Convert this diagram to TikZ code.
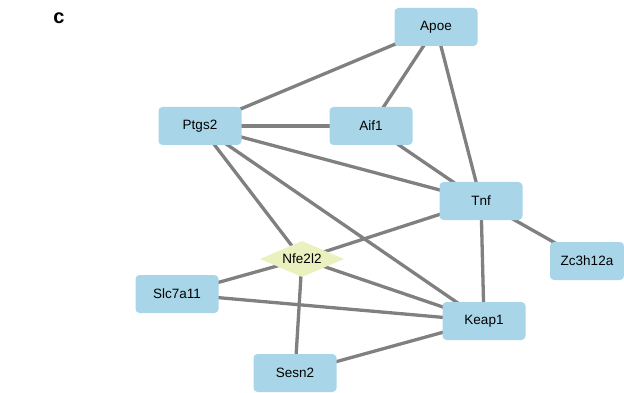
\documentclass[tikz,border=0pt]{standalone}
\usepackage{fontspec}
\setmainfont{Liberation Sans}
\usetikzlibrary{shapes.geometric,backgrounds}
\definecolor{genefill}{RGB}{168,214,232}
\definecolor{hubfill}{RGB}{234,240,190}
\definecolor{edgegray}{RGB}{128,128,128}
\tikzset{
  gene/.style={rectangle, rounded corners=4pt, fill=genefill, minimum width=83pt, minimum height=38pt, inner sep=0pt, font=\fontsize{13.5}{15}\selectfont},
  hub/.style={diamond, fill=hubfill, minimum width=84pt, minimum height=36pt, inner sep=0pt, aspect=2.3, font=\fontsize{13.5}{15}\selectfont},
  link/.style={draw=edgegray, line width=3.3pt}
}
\begin{document}
\begin{tikzpicture}[x=1pt,y=-1pt]
\useasboundingbox (0,0) rectangle (624,393);
\node[font=\bfseries\fontsize{20}{22}\selectfont, anchor=center] (lab) at (59,18) {c};
% gene nodes
\node[gene] (apoe) at (436,27) {Apoe};
\node[gene] (aif1) at (371,126) {Aif1};
\node[gene] (ptgs2) at (200,126) {Ptgs2};
\node[gene] (tnf) at (481,201) {Tnf};
\node[hub] (nfe) at (302,259) {Nfe2l2};
\node[gene] (slc) at (177,294) {Slc7a11};
\node[gene, minimum width=74pt] (zc) at (587,261) {Zc3h12a};
\node[gene] (keap) at (484,321) {Keap1};
\node[gene] (sesn) at (295,373) {Sesn2};
% interactions
\begin{scope}[on background layer]
\draw[link] (apoe.center) -- (ptgs2.center);
\draw[link] (apoe.center) -- (aif1.center);
\draw[link] (apoe.center) -- (tnf.center);
\draw[link] (ptgs2.center) -- (aif1.center);
\draw[link] (ptgs2.center) -- (tnf.center);
\draw[link] (ptgs2.center) -- (nfe.center);
\draw[link] (ptgs2.center) -- (keap.center);
\draw[link] (aif1.center) -- (tnf.center);
\draw[link] (tnf.center) -- (nfe.center);
\draw[link] (tnf.center) -- (zc.center);
\draw[link] (tnf.center) -- (keap.center);
\draw[link] (nfe.center) -- (slc.center);
\draw[link] (nfe.center) -- (keap.center);
\draw[link] (nfe.center) -- (sesn.center);
\draw[link] (slc.center) -- (keap.center);
\draw[link] (sesn.center) -- (keap.center);
\end{scope}
\end{tikzpicture}
\end{document}
